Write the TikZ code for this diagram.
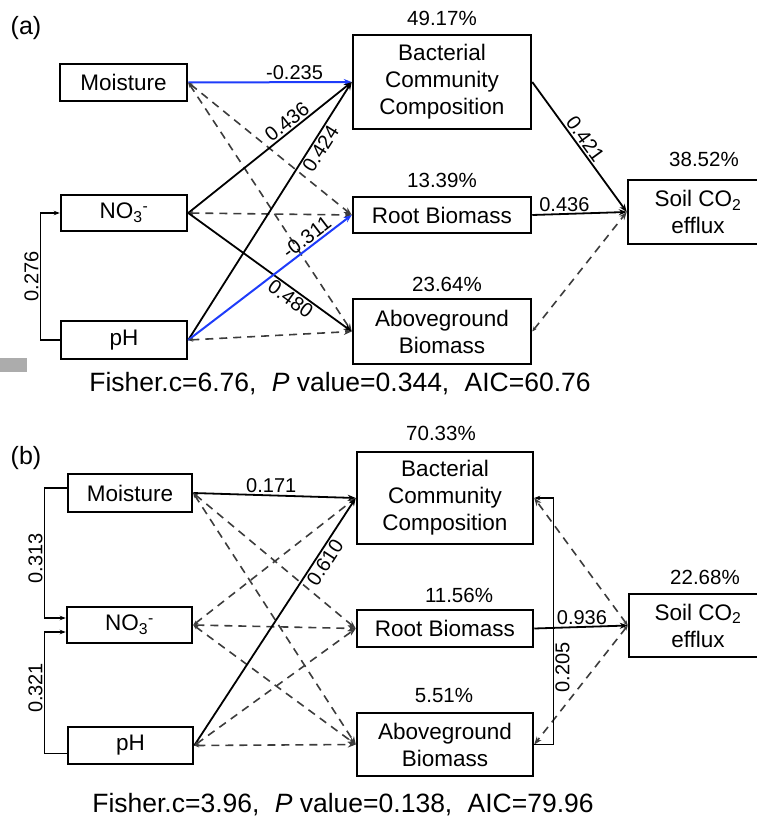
\documentclass[tikz,border=0pt]{standalone}
\usepackage{fontspec}
\setmainfont{Liberation Sans}
\usetikzlibrary{arrows.meta,calc}
\definecolor{bl}{RGB}{30,60,250}
\definecolor{dg}{RGB}{60,60,60}
\definecolor{gb}{RGB}{172,172,172}
\begin{document}
\begin{tikzpicture}[x=1pt,y=-1pt,
  box/.style={draw,line width=2.5pt,inner sep=0pt,align=center,font=\fontsize{22.5}{27}\selectfont},
  pct/.style={font=\fontsize{20.5}{24}\selectfont,inner sep=0pt},
  lbl/.style={font=\fontsize{20}{24}\selectfont,inner sep=1.5pt,text=black},
  fish/.style={font=\fontsize{26.5}{30}\selectfont,inner sep=0pt},
  tag/.style={font=\fontsize{25}{30}\selectfont,inner sep=0pt},
  sol/.style={line width=1.8pt,-{Stealth[length=8pt,width=6pt]}},
  blu/.style={sol,draw=bl,line width=2pt},
  dsh/.style={line width=1.6pt,draw=dg,dash pattern=on 8pt off 6pt,{Stealth[length=5pt,width=4pt]}-{Stealth[length=8pt,width=6pt]}},
  corr/.style={line width=1.4pt,-{Stealth[length=6pt,width=4.5pt]}},
]
\useasboundingbox (0,0) rectangle (756,829);

% ---------------- panel (a) ----------------
\node[tag] (ta) at (26,28) {(a)};
\node[box,minimum width=127pt,minimum height=37pt] (mo) at (123.5,82.5) {Moisture};
\node[box,minimum width=126pt,minimum height=36pt] (no) at (124,213) {NO\textsubscript{3}\textsuperscript{-}};
\node[box,minimum width=126pt,minimum height=38pt] (ph) at (124,340) {pH};
\node[box,minimum width=178pt,minimum height=94pt] (bcc) at (442,82) {Bacterial\\Community\\Composition};
\node[box,minimum width=178pt,minimum height=36pt] (rb) at (442,215) {Root Biomass};
\node[box,minimum width=178pt,minimum height=65pt] (ab) at (442,331.5) {Aboveground\\Biomass};
\node[box,minimum width=140pt,minimum height=64pt] (soil) at (698,212) {Soil CO\textsubscript{2}\\efflux};
\node[pct] (pa1) at (442,18) {49.17\%};
\node[pct] (pa2) at (442,180) {13.39\%};
\node[pct] (pa3) at (447,284) {23.64\%};
\node[pct] (pa4) at (704,159) {38.52\%};
\fill[gb] (0,358) rectangle (27,372);
\node[fish] (fa) at (340,384) {Fisher.c=6.76,\hspace{0.3em} \textit{P} value=0.344,\hspace{0.3em} AIC=60.76};

\draw[blu] (mo.east) -- node[lbl,pos=0.65,above] (la1) {-0.235} (bcc.west);
\draw[dsh] (mo.east) -- (rb.west);
\draw[dsh] (mo.east) -- (ab.west);
\draw[sol] (no.east) -- node[lbl,pos=0.64,sloped,above] (la2) {0.436} (bcc.west);
\draw[dsh] (no.east) -- (rb.west);
\draw[sol] (no.east) -- node[lbl,pos=0.66,sloped,below] (la3) {0.480} (ab.west);
\draw[sol] (ph.east) -- node[lbl,pos=0.76,sloped,below] (la4) {0.424} (bcc.west);
\draw[blu] (ph.east) -- node[lbl,pos=0.76,sloped,above] (la5) {-0.311} (rb.west);
\draw[dsh] (ph.east) -- (ab.west);
\draw[sol] (bcc.east) -- node[lbl,pos=0.48,sloped,above] (la6) {0.421} (soil.west);
\draw[sol] (rb.east) -- node[lbl,pos=0.34,above] (la7) {0.436} (soil.west);
\draw[dsh] (ab.east) -- (soil.west);
\draw[corr] (ph.west) -- ++(-19,0) |- node[lbl,pos=0.25,rotate=90,above] (la8) {0.276} (no.west);

% ---------------- panel (b) ----------------
\node[tag] (tb) at (26,458) {(b)};
\node[box,minimum width=124pt,minimum height=38pt] (mo2) at (130,493) {Moisture};
\node[box,minimum width=125pt,minimum height=36pt] (no2) at (129.5,625) {NO\textsubscript{3}\textsuperscript{-}};
\node[box,minimum width=125pt,minimum height=37pt] (ph2) at (130.5,745.5) {pH};
\node[box,minimum width=176pt,minimum height=92pt] (bcc2) at (445,498) {Bacterial\\Community\\Composition};
\node[box,minimum width=176pt,minimum height=37pt] (rb2) at (445,628.5) {Root Biomass};
\node[box,minimum width=176pt,minimum height=63pt] (ab2) at (445,744.5) {Aboveground\\Biomass};
\node[box,minimum width=138pt,minimum height=63pt] (soil2) at (698,625.5) {Soil CO\textsubscript{2}\\efflux};
\node[pct] (pb1) at (441,433) {70.33\%};
\node[pct] (pb2) at (459,595) {11.56\%};
\node[pct] (pb3) at (444,695) {5.51\%};
\node[pct] (pb4) at (705,577) {22.68\%};
\node[fish] (fb) at (343,805) {Fisher.c=3.96,\hspace{0.3em} \textit{P} value=0.138,\hspace{0.3em} AIC=79.96};

\draw[sol] (mo2.east) -- node[lbl,pos=0.48,above] (lb1) {0.171} (bcc2.west);
\draw[dsh] (mo2.east) -- (rb2.west);
\draw[dsh] (mo2.east) -- (ab2.west);
\draw[dsh] (no2.east) -- (bcc2.west);
\draw[dsh] (no2.east) -- (rb2.west);
\draw[dsh] (no2.east) -- (ab2.west);
\draw[sol] (ph2.east) -- node[lbl,pos=0.76,sloped,below] (lb2) {0.610} (bcc2.west);
\draw[dsh] (ph2.east) -- (rb2.west);
\draw[dsh] (ph2.east) -- (ab2.west);
\draw[sol] (rb2.east) -- node[lbl,pos=0.51,above] (lb3) {0.936} (soil2.west);
\draw[dsh] (soil2.west) -- (bcc2.east);
\draw[dsh] (soil2.west) -- (ab2.east);
\draw[corr] (ab2.east) -- ++(19,0) |- node[lbl,pos=0.156,rotate=90,below] (lb4) {0.205} (bcc2.east);
\draw[corr] ($(mo2.west)+(0,-5)$) -- ++(-22,0) |- node[lbl,pos=0.27,rotate=90,above] (lb5) {0.313} ($(no2.west)+(0,-7)$);
\draw[corr] ($(ph2.west)+(0,8)$) -- ++(-22,0) |- node[lbl,pos=0.27,rotate=90,above] (lb6) {0.321} ($(no2.west)+(0,7)$);
\end{tikzpicture}
\end{document}
